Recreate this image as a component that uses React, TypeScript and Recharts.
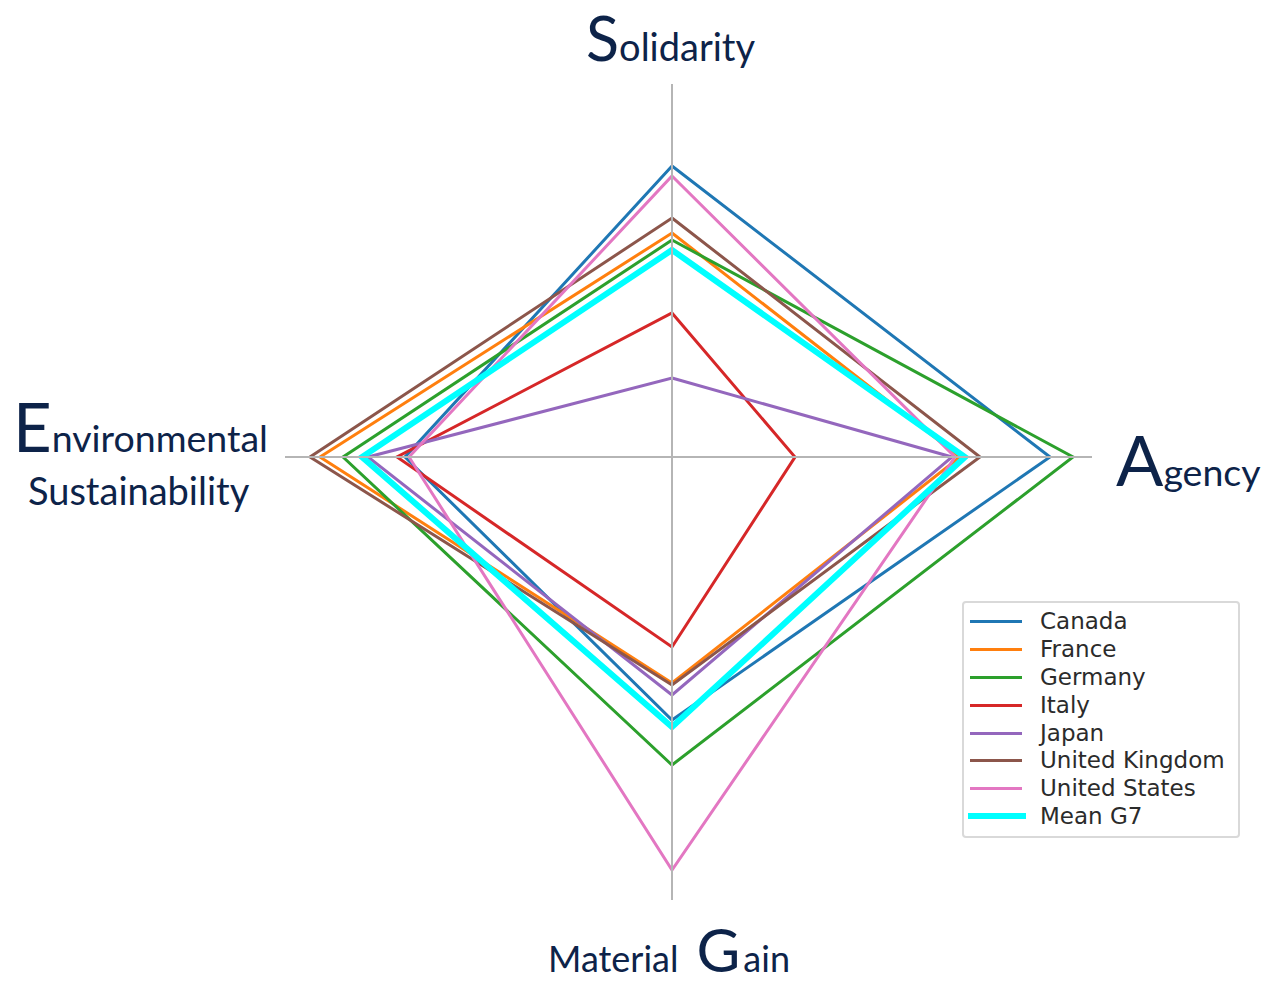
import React from "react";
import {
  RadarChart,
  Radar,
  PolarAngleAxis,
  PolarRadiusAxis,
  Legend,
} from "recharts";

// axes go clockwise from the top
const axes = ["Solidarity", "Agency", "Material Gain", "Environmental Sustainability"];

const canada = [2.91, 3.78, 2.63, 2.67];
const france = [2.24, 2.88, 2.26, 3.52];
const germany = [2.17, 4.01, 3.08, 3.29];
const italy = [1.44, 1.23, 1.9, 2.75];
const japan = [0.79, 2.8, 2.38, 3.04];
const unitedKingdom = [2.39, 3.08, 2.28, 3.62];
const unitedStates = [2.81, 2.83, 4.13, 2.63];
const meanG7 = [2.07, 2.93, 2.7, 3.1];

const seriesNames = [
  "Canada",
  "France",
  "Germany",
  "Italy",
  "Japan",
  "United Kingdom",
  "United States",
  "Mean G7",
];
const seriesValues = [canada, france, germany, italy, japan, unitedKingdom, unitedStates, meanG7];
const seriesColors = [
  "#1f77b4",
  "#ff7f0e",
  "#2ca02c",
  "#d62728",
  "#9467bd",
  "#8c564b",
  "#e377c2",
  "#00ffff",
];

// how far each grey axis line reaches
const axisReach = [3.73, 4.2, 4.43, 3.87];
const axisAngles = [90, 0, 270, 180];

const data = axes.map((axis, i) => {
  const row: Record<string, string | number> = { axis };
  seriesNames.forEach((name, s) => {
    row[name] = seriesValues[s][i];
  });
  return row;
});

const NAVY = "#0d2349";
const FONT = "Lato, 'Open Sans', sans-serif";

// each label line: start point and runs of text (big initial letters)
type Run = { text: string; size: number; dx?: number };
type Line = { x: number; y: number; runs: Run[] };

const labelLines: Record<string, Line[]> = {
  Solidarity: [
    { x: 586, y: 61, runs: [{ text: "S", size: 61 }, { text: "olidarity", size: 38 }] },
  ],
  Agency: [
    { x: 1116, y: 486, runs: [{ text: "A", size: 70 }, { text: "gency", size: 37.5 }] },
  ],
  "Material Gain": [
    {
      x: 548,
      y: 972,
      runs: [
        { text: "Material", size: 36 },
        { text: "G", size: 60, dx: 18 },
        { text: "ain", size: 36, dx: 3 },
      ],
    },
  ],
  "Environmental Sustainability": [
    { x: 13, y: 452, runs: [{ text: "E", size: 67 }, { text: "nvironmental", size: 37.5 }] },
    { x: 28, y: 505, runs: [{ text: "Sustainability", size: 38 }] },
  ],
};

const renderAxisLabel = (props: any) => {
  const lines = labelLines[props.payload.value] || [];
  return (
    <g>
      {lines.map((line, li) => (
        <text
          key={li}
          x={line.x}
          y={line.y}
          fontFamily={FONT}
          fontSize={Math.max(...line.runs.map((r) => r.size))}
          fill={NAVY}
          textAnchor="start"
        >
          {line.runs.map((r, ri) => (
            <tspan key={ri} fontSize={r.size} dx={r.dx}>
              {r.text}
            </tspan>
          ))}
        </text>
      ))}
    </g>
  );
};

const renderLegend = (props: any) => {
  const payload = (props.payload || []).filter(
    (entry: any) => entry.type !== "none" && seriesNames.includes(entry.value) && entry.color !== "none"
  );
  return (
    <div
      style={{
        width: 278,
        height: 237,
        boxSizing: "border-box",
        border: "2px solid #d9d9d9",
        borderRadius: 4,
        background: "#fff",
        padding: "5px 0 0 4px",
        fontFamily: "'DejaVu Sans', sans-serif",
        fontSize: 23,
        color: "#2b2b2b",
      }}
    >
      {payload.map((entry: any) => {
        const isMean = entry.value === "Mean G7";
        return (
          <div
            key={entry.value}
            style={{ display: "flex", alignItems: "center", height: 27.8 }}
          >
            <span
              style={{
                display: "inline-block",
                width: isMean ? 58 : 52,
                marginLeft: isMean ? 0 : 2,
                height: isMean ? 6 : 3,
                background: entry.color,
                marginRight: isMean ? 14 : 18,
              }}
            />
            <span style={{ lineHeight: "27px" }}>{entry.value}</span>
          </div>
        );
      })}
    </div>
  );
};

const App = () => {
  return (
    <div style={{ position: "absolute", left: 0, top: 0, background: "#fff" }}>
      <RadarChart
        width={1264}
        height={986}
        data={data}
        cx={672}
        cy={457}
        outerRadius={500}
        margin={{ top: 0, right: 0, bottom: 0, left: 0 }}
      >
        <PolarAngleAxis
          dataKey="axis"
          axisLine={false}
          tickLine={false}
          tick={renderAxisLabel}
        />
        {axisAngles.map((angle, i) => (
          <PolarRadiusAxis
            key={angle}
            radiusAxisId={i}
            angle={angle}
            type="number"
            domain={[0, 5]}
            ticks={[0, axisReach[i]]}
            tick={false}
            axisLine={{ stroke: "#b5b5b5", strokeWidth: 2 }}
          />
        ))}
        {/* invisible series so the extra radius axes get drawn */}
        {axisAngles.slice(1).map((angle, i) => (
          <Radar
            key={"axis-" + angle}
            name={"axis-" + angle}
            dataKey="Canada"
            radiusAxisId={i + 1}
            stroke="none"
            fill="none"
            legendType="none"
            dot={false}
            isAnimationActive={false}
          />
        ))}
        {seriesNames.map((name, s) => (
          <Radar
            key={name}
            name={name}
            dataKey={name}
            radiusAxisId={0}
            stroke={seriesColors[s]}
            strokeWidth={name === "Mean G7" ? 6 : 3}
            fill="none"
            fillOpacity={0}
            dot={false}
            isAnimationActive={false}
          />
        ))}
        <Legend
          layout="vertical"
          align="right"
          verticalAlign="middle"
          content={renderLegend}
          itemSorter={(item: any) => seriesNames.indexOf(item.value)}
          wrapperStyle={{ left: 962, top: 601, right: "auto", bottom: "auto", width: 278 }}
        />
      </RadarChart>
    </div>
  );
};

export default App;
